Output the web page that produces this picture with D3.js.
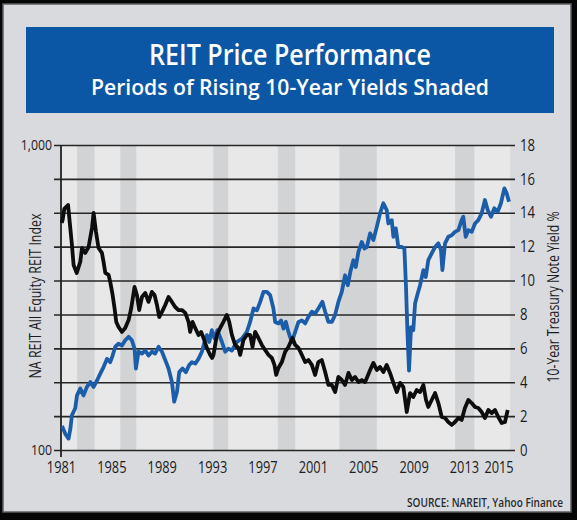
<!DOCTYPE html>
<html lang="en">
<head>
<meta charset="UTF-8">
<title>REIT Price Performance</title>
<script src="https://d3js.org/d3.v7.min.js"></script>
<style>
  * { margin: 0; padding: 0; box-sizing: border-box; }
  body { background: #000; font-family: "Open Sans", Arial, sans-serif; }
  svg { display: block; }
</style>
</head>
<body>
<div id="chart"></div>
<script>
// NA REIT All Equity REIT Index (left, log scale)
const reitYears = [1981.08, 1981.34, 1981.60, 1981.74, 1981.87, 1982.13, 1982.27, 1982.53, 1982.79, 1983.06,
  1983.33, 1983.59, 1983.86, 1984.12, 1984.38, 1984.65, 1984.91, 1985.10, 1985.31, 1985.57,
  1985.84, 1986.10, 1986.37, 1986.63, 1986.84, 1986.95, 1987.16, 1987.43, 1987.69, 1987.95,
  1988.22, 1988.48, 1988.75, 1989.02, 1989.28, 1989.54, 1989.81, 1989.99, 1990.21, 1990.39,
  1990.65, 1990.92, 1991.18, 1991.40, 1991.66, 1991.92, 1992.19, 1992.40, 1992.59, 1992.77,
  1992.98, 1993.19, 1993.42, 1993.78, 1994.04, 1994.30, 1994.57, 1994.97, 1995.37, 1995.76,
  1996.02, 1996.29, 1996.56, 1996.82, 1997.08, 1997.35, 1997.61, 1997.87, 1998.01, 1998.27,
  1998.48, 1998.67, 1998.86, 1999.06, 1999.33, 1999.60, 1999.86, 2000.13, 2000.39, 2000.65,
  2000.92, 2001.18, 2001.44, 2001.76, 2001.98, 2002.24, 2002.51, 2002.77, 2003.03, 2003.30,
  2003.56, 2003.78, 2003.98, 2004.22, 2004.41, 2004.62, 2004.89, 2005.10, 2005.29, 2005.55,
  2005.81, 2006.08, 2006.34, 2006.60, 2006.87, 2007.00, 2007.27, 2007.40, 2007.59, 2007.79,
  2008.06, 2008.27, 2008.40, 2008.51, 2008.64, 2008.80, 2008.98, 2009.12, 2009.33, 2009.52,
  2009.78, 2009.97, 2010.17, 2010.44, 2010.71, 2010.97, 2011.18, 2011.29, 2011.50, 2011.76,
  2012.03, 2012.29, 2012.56, 2012.82, 2012.95, 2013.14, 2013.35, 2013.62, 2013.88, 2014.14,
  2014.41, 2014.67, 2014.89, 2015.15, 2015.41, 2015.68, 2015.94, 2016.21, 2016.40, 2016.58];
const reitIndex = [120, 113, 109, 117, 130, 137, 151, 159, 151, 161,
  167, 161, 169, 178, 187, 199, 194, 204, 218, 223,
  220, 229, 235, 229, 215, 185, 210, 207, 212, 204,
  210, 207, 218, 210, 197, 185, 167, 144, 155, 180,
  185, 180, 190, 194, 192, 199, 210, 226, 238, 226,
  247, 232, 247, 226, 210, 215, 212, 226, 232, 244,
  263, 291, 287, 306, 330, 330, 322, 291, 263, 260,
  266, 250, 263, 244, 226, 244, 263, 266, 260, 273,
  284, 280, 291, 306, 284, 263, 263, 277, 306, 330,
  374, 347, 384, 419, 398, 446, 481, 458, 463, 513,
  488, 539, 597, 644, 612, 553, 567, 500, 533, 463,
  463, 458, 343, 247, 182, 253, 247, 302, 326, 347,
  389, 369, 419, 441, 463, 476, 452, 389, 476, 500,
  506, 519, 526, 567, 582, 500, 526, 519, 553, 567,
  597, 660, 612, 582, 620, 604, 644, 721, 694, 652];

// 10-Year Treasury Note Yield % (right axis)
const yieldYears = [1981.05, 1981.13, 1981.26, 1981.56, 1981.87, 1982.00, 1982.25, 1982.53, 1982.67, 1982.93,
  1983.19, 1983.46, 1983.59, 1983.78, 1983.98, 1984.25, 1984.38, 1984.52, 1984.78, 1984.91,
  1985.10, 1985.25, 1985.39, 1985.57, 1985.84, 1986.10, 1986.37, 1986.58, 1986.84, 1987.03,
  1987.21, 1987.43, 1987.69, 1987.95, 1988.22, 1988.43, 1988.62, 1988.80, 1989.02, 1989.28,
  1989.54, 1989.81, 1990.07, 1990.33, 1990.60, 1990.87, 1991.13, 1991.26, 1991.44, 1991.66,
  1991.92, 1992.13, 1992.32, 1992.59, 1992.85, 1993.00, 1993.11, 1993.38, 1993.64, 1993.90,
  1994.17, 1994.36, 1994.57, 1994.83, 1995.10, 1995.23, 1995.49, 1995.76, 1996.02, 1996.21,
  1996.42, 1996.68, 1996.95, 1997.21, 1997.48, 1997.75, 1997.95, 1998.09, 1998.27, 1998.54,
  1998.80, 1999.06, 1999.38, 1999.60, 1999.86, 2000.13, 2000.39, 2000.65, 2000.92, 2001.18,
  2001.44, 2001.71, 2001.98, 2002.24, 2002.51, 2002.77, 2003.03, 2003.30, 2003.56, 2003.83,
  2004.10, 2004.36, 2004.62, 2004.89, 2005.15, 2005.29, 2005.55, 2005.81, 2006.08, 2006.34,
  2006.60, 2006.87, 2007.13, 2007.40, 2007.67, 2007.93, 2008.19, 2008.46, 2008.72, 2008.98,
  2009.25, 2009.52, 2009.78, 2009.99, 2010.17, 2010.44, 2010.71, 2010.97, 2011.24, 2011.50,
  2011.76, 2012.03, 2012.29, 2012.56, 2012.82, 2013.08, 2013.35, 2013.62, 2013.88, 2014.14,
  2014.41, 2014.67, 2014.94, 2015.21, 2015.47, 2015.73, 2016.00, 2016.26, 2016.48];
const yieldPct = [13.4, 13.58, 14.23, 14.46, 12.10, 10.92, 10.45, 11.10, 11.92, 11.63,
  11.98, 13.10, 13.99, 12.87, 11.92, 11.63, 11.10, 10.45, 10.33, 9.92,
  9.15, 8.38, 7.56, 7.26, 6.97, 7.20, 7.67, 8.38, 9.62, 9.15,
  8.26, 9.03, 9.27, 8.74, 9.33, 9.15, 8.56, 7.85, 8.15, 8.56,
  9.03, 8.74, 8.44, 8.26, 8.26, 8.09, 7.56, 6.97, 7.56, 7.20,
  6.79, 6.97, 6.61, 6.02, 5.61, 5.43, 5.61, 6.79, 7.20, 7.56,
  7.97, 7.56, 6.79, 6.20, 6.02, 5.61, 6.49, 6.79, 6.79, 6.08,
  6.97, 6.61, 6.20, 5.90, 5.61, 5.43, 5.02, 4.43, 4.84, 5.19,
  5.79, 6.08, 6.61, 6.20, 6.02, 5.61, 5.19, 5.31, 5.02, 4.43,
  5.19, 5.31, 4.60, 3.84, 3.84, 3.42, 4.31, 4.13, 3.84, 4.55,
  4.13, 4.31, 4.01, 4.13, 4.01, 4.25, 4.72, 5.14, 4.72, 4.90,
  4.60, 5.02, 4.55, 3.96, 3.42, 3.96, 3.72, 2.24, 3.36, 3.13,
  3.54, 3.42, 3.84, 2.95, 2.54, 2.95, 3.36, 2.77, 1.95, 1.89,
  1.65, 1.48, 1.65, 1.89, 1.77, 2.48, 2.95, 2.77, 2.54, 2.48,
  2.24, 1.89, 2.36, 2.18, 2.36, 1.95, 1.59, 1.65, 2.36];

// periods of rising 10-year yields (shaded)
const bandStart = [1982.27, 1985.71, 1993.09, 1998.22, 2003.11, 2012.30];
const bandEnd   = [1983.67, 1986.98, 1994.28, 1999.60, 2006.08, 2013.83];

const xTickValues = [1981, 1985, 1989, 1993, 1997, 2001, 2005, 2009, 2013, 2015.75];
const xTickLabels = ["1981", "1985", "1989", "1993", "1997", "2001", "2005", "2009", "2013", "2015"];
const yieldTicks = [0, 2, 4, 6, 8, 10, 12, 14, 16, 18];
const indexTicks = [100, 1000];

const W = 577, H = 520;
const plot = {left: 61, right: 510, top: 145, bottom: 450};

const svg = d3.select("#chart").append("svg")
  .attr("width", W)
  .attr("height", H);

// squeeze text horizontally to imitate the condensed face
function squeeze(sel, k) {
  sel.each(function() {
    const w = this.getComputedTextLength();
    d3.select(this).attr("textLength", w * k).attr("lengthAdjust", "spacingAndGlyphs");
  });
}

svg.append("rect").attr("width", W).attr("height", H).attr("fill", "#060606");
svg.append("rect")
  .attr("x", 3).attr("y", 4).attr("width", 568).attr("height", 508)
  .attr("fill", "#d8dade").attr("stroke", "#5e5f62").attr("stroke-width", 1.5);

// title box
svg.append("rect")
  .attr("x", 26).attr("y", 27).attr("width", 528).attr("height", 86)
  .attr("fill", "#0b56a5");
svg.append("text")
  .attr("x", 290).attr("y", 65)
  .attr("text-anchor", "middle")
  .style("font-size", "28px").style("font-weight", 600).style("fill", "#fff")
  .attr("textLength", 282).attr("lengthAdjust", "spacingAndGlyphs")
  .text("REIT Price Performance");
svg.append("text")
  .attr("x", 290).attr("y", 95)
  .attr("text-anchor", "middle")
  .style("font-size", "22px").style("font-weight", 600).style("fill", "#fff")
  .attr("textLength", 398).attr("lengthAdjust", "spacingAndGlyphs")
  .text("Periods of Rising 10-Year Yields Shaded");

const x = d3.scaleLinear().domain([1981, 2016.66]).range([plot.left, plot.right]);
const yR = d3.scaleLinear().domain([0, 18]).range([plot.bottom, plot.top]);
const yL = d3.scaleLog().domain([100, 1000]).range([plot.bottom, plot.top]);

// plot background and shaded bands
svg.append("rect")
  .attr("x", plot.left).attr("y", plot.top)
  .attr("width", plot.right - plot.left).attr("height", plot.bottom - plot.top)
  .attr("fill", "#e8e8e9");

svg.selectAll(".band")
  .data(bandStart.map((s, i) => ({s: s, e: bandEnd[i]})))
  .enter()
  .append("rect")
  .attr("class", "band")
  .attr("x", d => x(d.s))
  .attr("y", plot.top)
  .attr("width", d => x(d.e) - x(d.s))
  .attr("height", plot.bottom - plot.top)
  .attr("fill", "#d2d3d5");

// gridlines + right axis
const right = svg.append("g")
  .attr("transform", `translate(${plot.right + 5},0)`)
  .call(d3.axisRight(yR)
          .tickValues(yieldTicks)
          .tickSize(-(plot.right + 5 - 54))
          .tickPadding(5));
right.select(".domain").remove();
right.selectAll("line").attr("stroke", "#262626").attr("stroke-width", 1.6);
right.selectAll("text")
  .style("font-size", "16px").style("fill", "#1c1c1c").style("font-family", "'Open Sans', sans-serif");
squeeze(right.selectAll("text"), 0.82);

// left axis
const left = svg.append("g")
  .attr("transform", `translate(${plot.left},0)`)
  .call(d3.axisLeft(yL)
          .tickValues(indexTicks)
          .tickFormat(d3.format(","))
          .tickSize(0)
          .tickPadding(9));
left.select(".domain").remove();
left.selectAll("text")
  .style("font-size", "15px").style("fill", "#1c1c1c").style("font-family", "'Open Sans', sans-serif");
squeeze(left.selectAll("text"), 0.82);

svg.append("line")
  .attr("x1", x(1981)).attr("x2", x(1981))
  .attr("y1", plot.top).attr("y2", plot.bottom + 7)
  .attr("stroke", "#222").attr("stroke-width", 1.8);

// x axis labels
const bottom = svg.append("g")
  .attr("transform", `translate(0,${plot.bottom})`)
  .call(d3.axisBottom(x)
          .tickValues(xTickValues)
          .tickFormat((d, i) => xTickLabels[i])
          .tickSize(0)
          .tickPadding(12));
bottom.select(".domain").remove();
bottom.selectAll("text")
  .style("font-size", "16px").style("fill", "#1c1c1c").style("font-family", "'Open Sans', sans-serif");
squeeze(bottom.selectAll("text"), 0.8);

// series
const reitData = reitYears.map((t, i) => ({t: t, v: reitIndex[i]}));
const yieldData = yieldYears.map((t, i) => ({t: t, v: yieldPct[i]}));

svg.append("path")
  .datum(reitData)
  .attr("fill", "none")
  .attr("stroke", "#1c5daa")
  .attr("stroke-width", 3.8)
  .attr("stroke-linejoin", "round")
  .attr("d", d3.line().x(d => x(d.t)).y(d => yL(d.v)));

svg.append("path")
  .datum(yieldData)
  .attr("fill", "none")
  .attr("stroke", "#0d0d0d")
  .attr("stroke-width", 3.8)
  .attr("stroke-linejoin", "round")
  .attr("d", d3.line().x(d => x(d.t)).y(d => yR(d.v)));

// axis titles
svg.append("text")
  .attr("transform", "translate(41,296) rotate(-90)")
  .attr("text-anchor", "middle")
  .style("font-size", "16px").style("fill", "#1c1c1c")
  .attr("textLength", 165).attr("lengthAdjust", "spacingAndGlyphs")
  .text("NA REIT All Equity REIT Index");

svg.append("text")
  .attr("transform", "translate(559,297) rotate(-90)")
  .attr("text-anchor", "middle")
  .style("font-size", "16px").style("fill", "#1c1c1c")
  .attr("textLength", 171).attr("lengthAdjust", "spacingAndGlyphs")
  .text("10-Year Treasury Note Yield %");

svg.append("text")
  .attr("x", 563).attr("y", 507)
  .attr("text-anchor", "end")
  .style("font-size", "12px").style("font-weight", 600).style("fill", "#2a2a2a")
  .attr("textLength", 156).attr("lengthAdjust", "spacingAndGlyphs")
  .text("SOURCE: NAREIT, Yahoo Finance");
</script>
</body>
</html>
